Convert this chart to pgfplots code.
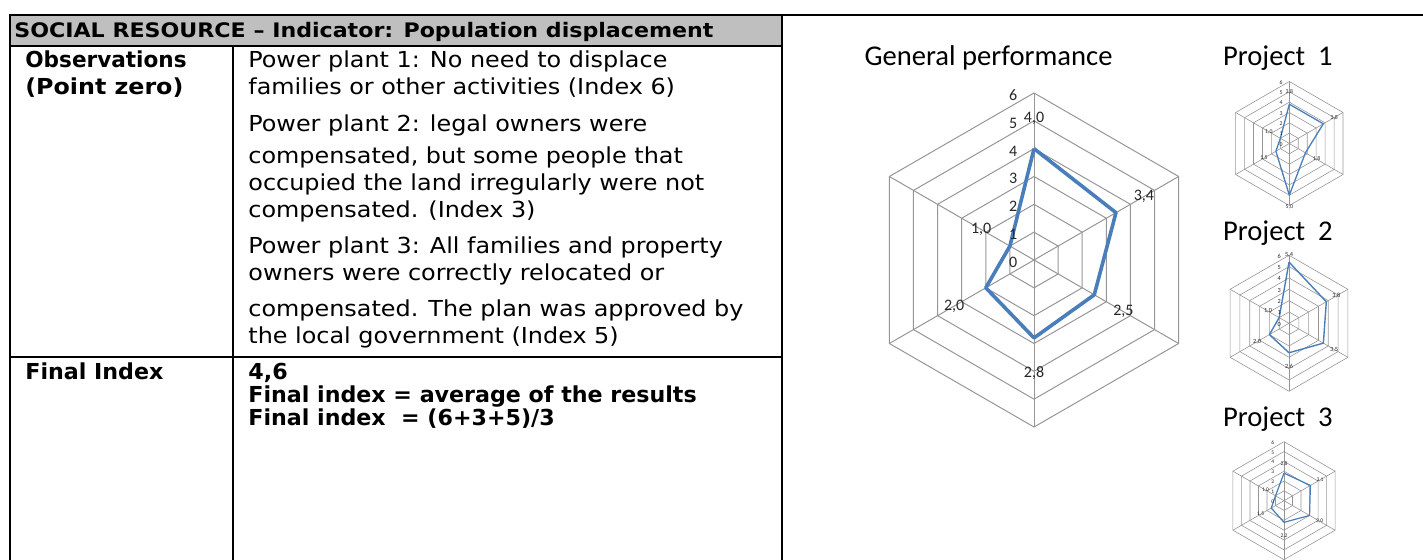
\documentclass[border=0pt]{standalone}
\usepackage{fontspec}
\usepackage{pgfplots}
\pgfplotsset{compat=1.18}
\newfontfamily\tah{DejaVu Sans Condensed}
\newfontfamily\calfont{Carlito}
\definecolor{gridgray}{RGB}{150,150,150}
\definecolor{lineblue}{RGB}{74,126,187}
\definecolor{hdrgray}{RGB}{191,191,191}

\newcommand{\hexgrid}[1]{%
  \pgfplotsinvokeforeach{1,2,3,4,5,6}{%
    \addplot[gridgray, line width=#1, data cs=polar] coordinates {(90,##1) (30,##1) (-30,##1) (-90,##1) (-150,##1) (150,##1) (90,##1)};
  }%
  \pgfplotsinvokeforeach{90,30,-30,-90,-150,150}{%
    \addplot[gridgray, line width=#1, data cs=polar] coordinates {(##1,0) (##1,6)};
  }%
}
\pgfplotsset{
  radar/.style={hide axis, clip=false, anchor=center, xmin=-6, xmax=6, ymin=-6, ymax=6},
  lbl/.style={draw=none, mark=none, nodes near coords, point meta=explicit symbolic,
    every node near coord/.append style={anchor=center, inner sep=0pt, text=black!85, font=\calfont\fontsize{#1}{#1}\selectfont}},
}
\newcommand{\bodyfont}{\tah\fontsize{11bp}{13bp}\selectfont}
\newcommand{\rl}[1]{\scalebox{1.207}[1]{\bodyfont #1}}
\newcommand{\bl}[1]{\scalebox{1.12}[1]{\bodyfont\bfseries #1}}

\begin{document}
\begin{tikzpicture}[x=0.5bp, y=0.5bp]
\useasboundingbox (0,0) rectangle (1423,560);
% ---------- table ----------
\fill[hdrgray] (10,514) rectangle (782,545);
\draw[line width=1bp] (10,0) -- (10,545) -- (1423,545);
\draw[line width=1bp] (10,514) -- (782,514);
\draw[line width=1bp] (233,0) -- (233,514);
\draw[line width=1bp] (782,0) -- (782,545);
\draw[line width=1bp] (10,203) -- (782,203);

\node[anchor=base west, inner sep=0pt] at (14,522) {\scalebox{1.23}[1]{\tah\bfseries\fontsize{10bp}{12bp}\selectfont SOCIAL RESOURCE – Indicator: Population displacement}};

\node[anchor=base west, inner sep=0pt] at (25,492) {\scalebox{1.09}[1]{\bodyfont\bfseries Observations}};
\node[anchor=base west, inner sep=0pt] at (25,465.5) {\scalebox{1.2}[1]{\bodyfont\bfseries (Point zero)}};
\node[anchor=base west, inner sep=0pt] at (25,180) {\bl{Final Index}};

\node[anchor=base west, inner sep=0pt] at (248,492) {\rl{Power plant 1: No need to displace}};
\node[anchor=base west, inner sep=0pt] at (248,465.5) {\rl{families or other activities (Index 6)}};
\node[anchor=base west, inner sep=0pt] at (248,428) {\rl{Power plant 2: legal owners were}};
\node[anchor=base west, inner sep=0pt] at (248,396) {\rl{compensated, but some people that}};
\node[anchor=base west, inner sep=0pt] at (248,369) {\rl{occupied the land irregularly were not}};
\node[anchor=base west, inner sep=0pt] at (248,342) {\rl{compensated. (Index 3)}};
\node[anchor=base west, inner sep=0pt] at (248,306) {\rl{Power plant 3: All families and property}};
\node[anchor=base west, inner sep=0pt] at (248,279) {\rl{owners were correctly relocated or}};
\node[anchor=base west, inner sep=0pt] at (248,243) {\rl{compensated. The plan was approved by}};
\node[anchor=base west, inner sep=0pt] at (248,216) {\rl{the local government (Index 5)}};

\node[anchor=base west, inner sep=0pt] at (248,180) {\bl{4,6}};
\node[anchor=base west, inner sep=0pt] at (248,157) {\bl{Final index = average of the results}};
\node[anchor=base west, inner sep=0pt] at (248,134) {\bl{Final index\ \ = (6+3+5)/3}};

% ---------- titles ----------
\node[anchor=base, inner sep=0pt] at (988.5,494) {\calfont\fontsize{14.3bp}{17bp}\selectfont General performance};
\node[anchor=base west, inner sep=0pt] at (1222.7,494) {\calfont\fontsize{14.3bp}{17bp}\selectfont Project\ \ 1};
\node[anchor=base west, inner sep=0pt] at (1222.7,319) {\calfont\fontsize{14.3bp}{17bp}\selectfont Project\ \ 2};
\node[anchor=base west, inner sep=0pt] at (1222.7,133) {\calfont\fontsize{14.3bp}{17bp}\selectfont Project\ \ 3};

\coordinate (cG) at (1034,300);
\coordinate (c1) at (1289.3,416.5);
\coordinate (c2) at (1289,236.7);
\coordinate (c3) at (1284,59.3);

% ---------- General performance ----------
\begin{axis}[radar, at={(cG)}, x=13.917bp, y=13.917bp]
\hexgrid{0.5bp}
\addplot[lineblue, line width=1.8bp, line join=round, data cs=polar] coordinates {(90,4.0) (30,3.4) (-30,2.5) (-90,2.8) (-150,2.0) (150,1.0) (90,4.0)};
\addplot[lbl=8bp] coordinates {(-0.75,-0.08)[0] (-0.75,0.92)[1] (-0.75,1.92)[2] (-0.75,2.92)[3] (-0.75,3.92)[4] (-0.75,4.92)[5] (-0.75,5.92)[6]};
\addplot[lbl=8bp, data cs=polar] coordinates {(90,5.09)[{4,0}] (30,4.56)[{3,4}] (-30,3.71)[{2,5}] (-90,4.07)[{2,8}] (-150,3.31)[{2,0}] (150,2.19)[{1,0}]};
\end{axis}

% ---------- Project 1 ----------
\begin{axis}[radar, at={(c1)}, x=5.167bp, y=5.167bp]
\hexgrid{0.3bp}
\addplot[lineblue, line width=0.65bp, line join=round, data cs=polar] coordinates {(90,3.8) (30,3.8) (-30,1.8) (-90,5.0) (-150,1.5) (150,1.0) (90,3.8)};
\addplot[lbl=2.9bp] coordinates {(-0.8,-0.08)[0] (-0.8,0.92)[1] (-0.8,1.92)[2] (-0.8,2.92)[3] (-0.8,3.92)[4] (-0.8,4.92)[5] (-0.8,5.92)[6]};
\addplot[lbl=2.9bp, data cs=polar] coordinates {(90,4.96)[{3,8}] (30,5.02)[{3,8}] (-30,3.05)[{1,8}] (-90,6.12)[{5,0}] (-150,2.83)[{1,5}] (150,2.29)[{1,0}]};
\end{axis}

% ---------- Project 2 ----------
\begin{axis}[radar, at={(c2)}, x=5.667bp, y=5.667bp]
\hexgrid{0.3bp}
\addplot[lineblue, line width=0.7bp, line join=round, data cs=polar] coordinates {(90,5.4) (30,3.8) (-30,3.5) (-90,2.6) (-150,2.0) (150,1.0) (90,5.4)};
\addplot[lbl=3.15bp] coordinates {(-0.86,-0.08)[0] (-0.86,0.92)[1] (-0.86,1.92)[2] (-0.86,2.92)[3] (-0.86,3.92)[4] (-0.86,4.92)[5] (-0.86,5.92)[6]};
\addplot[lbl=3.15bp, data cs=polar] coordinates {(90,6.0)[{5,4}] (30,4.82)[{3,8}] (-30,4.6)[{3,5}] (-90,3.83)[{2,6}] (-150,3.25)[{2,0}] (150,2.14)[{1,0}]};
\end{axis}

% ---------- Project 3 ----------
\begin{axis}[radar, at={(c3)}, x=4.917bp, y=4.917bp]
\hexgrid{0.3bp}
\addplot[lineblue, line width=0.6bp, line join=round, data cs=polar] coordinates {(90,2.8) (30,3.1) (-30,3.0) (-90,2.2) (-150,1.5) (150,1.0) (90,2.8)};
\addplot[lbl=2.75bp] coordinates {(-1.15,-0.08)[0] (-1.15,0.92)[1] (-1.15,1.92)[2] (-1.15,2.92)[3] (-1.15,3.92)[4] (-1.15,4.92)[5] (-1.15,5.92)[6]};
\addplot[lbl=2.75bp, data cs=polar] coordinates {(90,3.7)[{2,8}] (30,4.23)[{3,1}] (-30,4.18)[{3,0}] (-90,3.56)[{2,2}] (-150,2.75)[{1,5}] (150,2.17)[{1,0}]};
\end{axis}
\end{tikzpicture}
\end{document}
